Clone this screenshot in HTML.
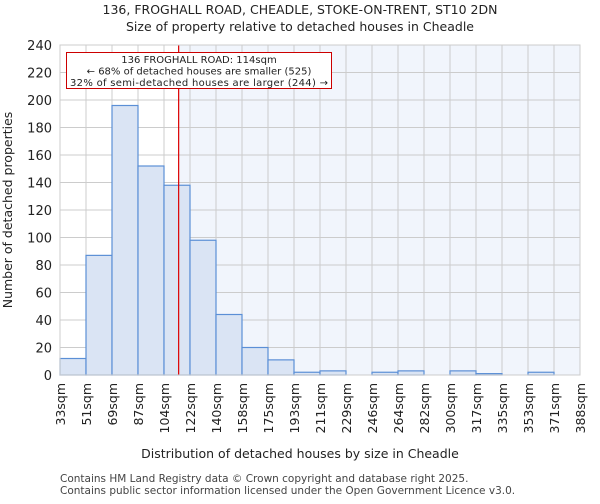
<!DOCTYPE html>
<html><head><meta charset="utf-8"><style>
body{margin:0;background:#fff;font-family:"DejaVu Sans","Liberation Sans",sans-serif}
text{font-family:"DejaVu Sans","Liberation Sans",sans-serif}
</style></head><body>
<svg id="chart" width="600" height="500" xmlns="http://www.w3.org/2000/svg">
<text x="300" y="14" text-anchor="middle" font-size="12.5" fill="#222">136, FROGHALL ROAD, CHEADLE, STOKE-ON-TRENT, ST10 2DN</text>
<text x="300" y="31" text-anchor="middle" font-size="12.5" fill="#222">Size of property relative to detached houses in Cheadle</text>
<g id="plot"></g>
<text x="300" y="458" text-anchor="middle" font-size="12.5" fill="#222">Distribution of detached houses by size in Cheadle</text>
<text transform="translate(12,210) rotate(-90)" text-anchor="middle" font-size="12.5" fill="#222">Number of detached properties</text>
<text x="60" y="482" font-size="10.5" fill="#444">Contains HM Land Registry data © Crown copyright and database right 2025.</text>
<text x="60" y="494" font-size="10.5" fill="#444">Contains public sector information licensed under the Open Government Licence v3.0.</text>
</svg>
<script>
const categories=["33sqm","51sqm","69sqm","87sqm","104sqm","122sqm","140sqm","158sqm","175sqm","193sqm","211sqm","229sqm","246sqm","264sqm","282sqm","300sqm","317sqm","335sqm","353sqm","371sqm","388sqm"];
const binEdges=[33,50.75,68.5,86.25,104,121.75,139.5,157.25,175,192.75,210.5,228.25,246,263.75,281.5,299.25,317,334.75,352.5,370.25,388];
const counts=[12,87,196,152,138,98,44,20,11,2,3,0,2,3,0,3,1,0,2,0];
const yTicks=[0,20,40,60,80,100,120,140,160,180,200,220,240];
const propertySize=114;
const NS="http://www.w3.org/2000/svg";
const L=60,R=580,T=45,B=375;
const x=v=>L+(v-binEdges[0])/(binEdges[binEdges.length-1]-binEdges[0])*(R-L);
const y=v=>B-v/240*(B-T);
const g=document.getElementById('plot');
function mk(tag,attrs){const e=document.createElementNS(NS,tag);for(const k in attrs)e.setAttribute(k,attrs[k]);g.appendChild(e);return e;}
const px=x(propertySize);
let e=mk('rect',{x:L,y:T,width:R-L,height:B-T,fill:'#fff'});


e=mk('rect',{x:px,y:T,width:R-px,height:B-T,fill:'#f1f5fc'});


yTicks.forEach(t=>{
 let l=mk('line',{x1:L,x2:R,y1:y(t),y2:y(t),stroke:'#ccc','stroke-width':1});
 
 
 let tx=mk('text',{x:L-8,y:y(t)+5,'text-anchor':'end','font-size':'13',fill:'#222'});
 tx.textContent=t;
 
 
});
binEdges.forEach((b,i)=>{
 let l=mk('line',{x1:x(b),x2:x(b),y1:T,y2:B,stroke:'#ccc','stroke-width':1});
 
 
 let tx=mk('text',{transform:`translate(${x(b)+5},${B+8}) rotate(-90)`,'text-anchor':'end','font-size':'12.5',fill:'#222'});
 tx.textContent=categories[i];
 
 
});
counts.forEach((c,i)=>{
 const x0=x(binEdges[i]),x1=x(binEdges[i+1]);
 let r=mk('rect',{x:x0,y:y(c),width:x1-x0,height:B-y(c),fill:'#dae4f4',stroke:'#5b8fd6','stroke-width':1.2});
 
 
});
e=mk('line',{x1:px,x2:px,y1:T,y2:B,stroke:'#d00','stroke-width':1.2});


e=mk('rect',{x:66.5,y:52.5,width:265,height:36,fill:'#fff',stroke:'#c00','stroke-width':1});


["136 FROGHALL ROAD: 114sqm","← 68% of detached houses are smaller (525)","32% of semi-detached houses are larger (244) →"].forEach((s,i)=>{
 let tx=mk('text',{x:199,y:63+i*11.5,'text-anchor':'middle','font-size':'10','textLength':i==2?258:null,fill:'#222'});
 if(i!=2)tx.removeAttribute('textLength');
 tx.textContent=s;
 
 
});
e=mk('rect',{x:L,y:T,width:R-L,height:B-T,fill:'none',stroke:'#ccc','stroke-width':1});


</script>
</body></html>
